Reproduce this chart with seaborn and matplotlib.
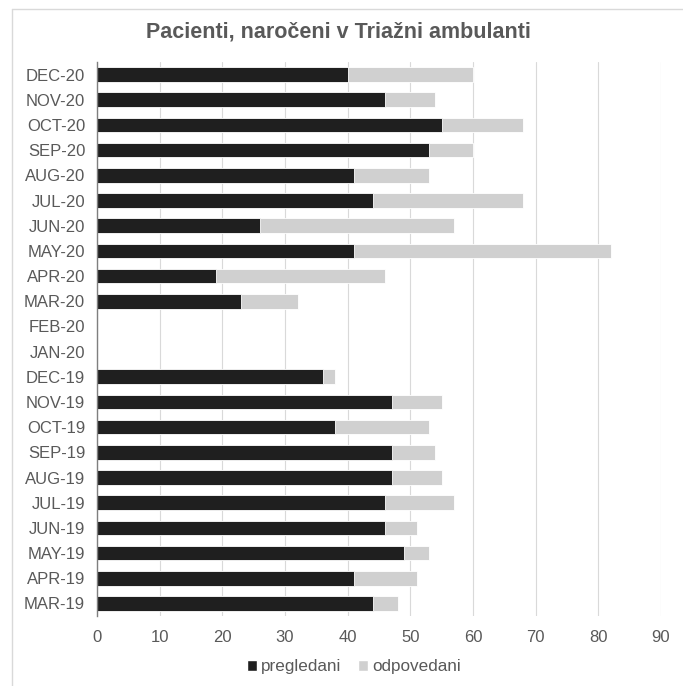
import numpy as np
import pandas as pd
import seaborn as sns
import matplotlib.pyplot as plt
from matplotlib.lines import Line2D
from matplotlib.patches import Patch

# meseci od zgoraj navzdol
meseci = ['DEC-20', 'NOV-20', 'OCT-20', 'SEP-20', 'AUG-20', 'JUL-20', 'JUN-20',
          'MAY-20', 'APR-20', 'MAR-20', 'FEB-20', 'JAN-20', 'DEC-19', 'NOV-19',
          'OCT-19', 'SEP-19', 'AUG-19', 'JUL-19', 'JUN-19', 'MAY-19', 'APR-19',
          'MAR-19']
pregledani = [40, 46, 55, 53, 41, 44, 26, 41, 19, 23, 0, 0, 36, 47,
              38, 47, 47, 46, 46, 49, 41, 44]
odpovedani = [20, 8, 13, 7, 12, 24, 31, 41, 27, 9, 0, 0, 2, 8,
              15, 7, 8, 11, 5, 4, 10, 4]

df = pd.DataFrame({'mesec': meseci, 'pregledani': pregledani, 'odpovedani': odpovedani})
df['skupaj'] = df['pregledani'] + df['odpovedani']

sns.set_style('white')
plt.rcParams['font.family'] = ['Liberation Sans', 'DejaVu Sans']
siva = '#595959'
c_preg = '#1f1f1f'
c_odp = '#d0d0d0'

fig = plt.figure(figsize=(6.83, 6.86), dpi=100)
ax = fig.add_axes([97 / 683, 1 - 616 / 686, (661 - 97) / 683, (616 - 62) / 686])

# zlozeni stolpci: najprej skupaj (sivo), nato pregledani (crno)
sns.barplot(data=df, y='mesec', x='skupaj', order=meseci, orient='h', color=c_odp,
            width=0.58, edgecolor='white', linewidth=0.6, saturation=1, ax=ax, zorder=2)
sns.barplot(data=df, y='mesec', x='pregledani', order=meseci, orient='h', color=c_preg,
            width=0.58, edgecolor='white', linewidth=0.6, saturation=1, ax=ax, zorder=3)

ax.set_xlim(0, 90)
ax.set_xticks(np.arange(0, 91, 10))
ax.set_ylim(len(meseci) - 0.5, -0.5)
ax.set_xlabel('')
ax.set_ylabel('')
ax.grid(axis='x', color='#d9d9d9', linewidth=0.8, zorder=0)
ax.set_axisbelow(True)
for s in ['top', 'right', 'bottom']:
    ax.spines[s].set_visible(False)
ax.spines['left'].set_color('#7f7f7f')
ax.spines['left'].set_linewidth(1.0)
ax.spines['left'].set_zorder(5)
ax.tick_params(axis='both', length=0, labelsize=12, labelcolor=siva)
ax.tick_params(axis='x', pad=10)
ax.tick_params(axis='y', pad=8.5)

fig.text(0.495, 1 - 32 / 686, 'Pacienti, naročeni v Triažni ambulanti', ha='center', va='center',
         fontsize=15.5, fontweight='bold', color=siva)

handles = [Patch(facecolor=c_preg, label='pregledani'), Patch(facecolor=c_odp, label='odpovedani')]
fig.legend(handles=handles, loc='center', bbox_to_anchor=(0.518, 1 - 667 / 686), ncol=2,
           frameon=False, fontsize=12.3, labelcolor=siva, handlelength=0.6, handleheight=0.6,
           handletextpad=0.2, columnspacing=1.0)

# okvir grafa
fig.add_artist(Line2D([12 / 683, 12 / 683], [0, 1 - 9 / 686], transform=fig.transFigure,
                      color='#d9d9d9', linewidth=1))
fig.add_artist(Line2D([12 / 683, 1], [1 - 9 / 686, 1 - 9 / 686], transform=fig.transFigure,
                      color='#d9d9d9', linewidth=1))

fig.savefig('out.png', dpi=100)
